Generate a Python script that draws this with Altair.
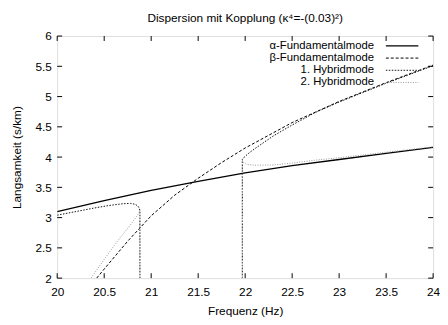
import altair as alt
import pandas as pd

# ---- data ----
alpha_f = [20, 20.5, 21, 21.5, 22, 22.5, 23, 23.5, 24]
alpha_v = [3.10, 3.28, 3.45, 3.60, 3.74, 3.86, 3.96, 4.06, 4.16]

beta_f = [20.42, 20.5, 20.75, 21, 21.25, 21.5, 21.75, 22, 22.5, 23, 23.5, 24]
beta_v = [2.0, 2.15, 2.61, 3.03, 3.37, 3.65, 3.91, 4.15, 4.57, 4.92, 5.23, 5.52]

# 1. Hybridmode: two pieces (upper nose branch + drop, rise + beta-like branch)
hyb1_f = [20, 20.2, 20.4, 20.55, 20.7, 20.78, 20.83, 20.86, 20.875, 20.88, 20.88,
          21.97, 21.97, 21.99, 22.05, 22.15, 22.3, 22.5, 22.75, 23, 23.5, 24]
hyb1_v = [3.04, 3.10, 3.16, 3.20, 3.23, 3.235, 3.22, 3.19, 3.15, 3.10, 2.0,
          2.0, 3.96, 4.0, 4.08, 4.19, 4.35, 4.53, 4.74, 4.91, 5.22, 5.51]
hyb1_seg = [0] * 11 + [1] * 11

# 2. Hybridmode: lower nose branch + drop, rise + alpha-like branch
hyb2_f = [20.36, 20.5, 20.65, 20.78, 20.84, 20.87, 20.88, 20.88,
          21.97, 21.97, 21.98, 22.02, 22.1, 22.3, 22.5, 22.75, 23, 23.5, 24]
hyb2_v = [2.0, 2.31, 2.63, 2.88, 3.01, 3.08, 3.12, 2.0,
          2.0, 3.95, 3.91, 3.88, 3.865, 3.87, 3.90, 3.95, 3.99, 4.08, 4.17]
hyb2_seg = [0] * 8 + [1] * 11

x_ticks = [20, 20.5, 21, 21.5, 22, 22.5, 23, 23.5, 24]
y_ticks = [2, 2.5, 3, 3.5, 4, 4.5, 5, 5.5, 6]

legend_labels = ["α-Fundamentalmode", "β-Fundamentalmode", "1. Hybridmode", "2. Hybridmode"]

title_text = "Dispersion mit Kopplung (κ⁴=-(0.03)²)"

# ---- layout ----
W, H = 382, 246
FONT = "Liberation Sans"

xscale = alt.Scale(domain=[20, 24], nice=False, zero=False)
yscale = alt.Scale(domain=[2, 6], nice=False, zero=False)
xaxis = alt.Axis(values=x_ticks, format=".1~f", title="Frequenz (Hz)", ticks=False,
                 domain=False, grid=False, labelPadding=9, titlePadding=8,
                 labelFontSize=12, titleFontSize=12, titleFontWeight="normal",
                 labelFont=FONT, titleFont=FONT, labelColor="black",
                 titleColor="black", labelFlush=False)
yaxis = alt.Axis(values=y_ticks, format=".1~f", title="Langsamkeit (s/km)", ticks=False,
                 domain=False, grid=False, labelPadding=6, titlePadding=12,
                 labelFontSize=12, titleFontSize=12, titleFontWeight="normal",
                 labelFont=FONT, titleFont=FONT, labelColor="black",
                 titleColor="black", labelFlush=False)


def series(f, v, seg=None):
    seg = seg if seg is not None else [0] * len(f)
    return pd.DataFrame({"f": f, "v": v, "seg": seg, "i": list(range(len(f)))})


def line_layer(df, color, dash, width):
    kw = dict(color=color, strokeWidth=width, clip=True)
    if dash:
        kw["strokeDash"] = dash
    return alt.Chart(df).mark_line(**kw).encode(
        x=alt.X("f:Q", scale=xscale, axis=xaxis),
        y=alt.Y("v:Q", scale=yscale, axis=yaxis),
        detail="seg:N",
        order="i:Q",
    )


styles = [
    ("black", None, 1.3),
    ("black", [3, 2], 1.0),
    ("#111111", [1.5, 1.5], 1.0),
    ("#999999", [1, 1.5], 1.0),
]

layers = [
    line_layer(series(alpha_f, alpha_v), *styles[0]),
    line_layer(series(beta_f, beta_v), *styles[1]),
    line_layer(series(hyb1_f, hyb1_v, hyb1_seg), *styles[2]),
    line_layer(series(hyb2_f, hyb2_v, hyb2_seg), *styles[3]),
]

# inward ticks (gnuplot style), mirrored on all four sides
TL = 5
xt = pd.DataFrame({"t": x_ticks})
yt = pd.DataFrame({"t": y_ticks})
layers.append(alt.Chart(xt).mark_rule(color="black", strokeWidth=1).encode(
    x=alt.X("t:Q", scale=xscale, axis=xaxis), y=alt.value(H), y2=alt.value(H - TL)))
layers.append(alt.Chart(xt).mark_rule(color="black", strokeWidth=1).encode(
    x=alt.X("t:Q", scale=xscale, axis=xaxis), y=alt.value(0), y2=alt.value(TL)))
layers.append(alt.Chart(yt).mark_rule(color="black", strokeWidth=1).encode(
    y=alt.Y("t:Q", scale=yscale, axis=yaxis), x=alt.value(0), x2=alt.value(TL)))
layers.append(alt.Chart(yt).mark_rule(color="black", strokeWidth=1).encode(
    y=alt.Y("t:Q", scale=yscale, axis=yaxis), x=alt.value(W), x2=alt.value(W - TL)))

# key (gnuplot style: right-aligned labels, sample line to the right)
one = pd.DataFrame({"k": [0]})
for n, (lab, st) in enumerate(zip(legend_labels, styles)):
    ypix = 10 + n * 12.4
    layers.append(alt.Chart(one).mark_text(
        align="right", baseline="middle", fontSize=11.5, font=FONT, color="black",
        text=lab).encode(x=alt.value(322), y=alt.value(ypix)))
    color, dash, width = st
    kw = dict(color=color, strokeWidth=width)
    if dash:
        kw["strokeDash"] = dash
    layers.append(alt.Chart(one).mark_rule(**kw).encode(
        x=alt.value(334), x2=alt.value(367), y=alt.value(ypix)))

chart = alt.layer(*layers).properties(
    width=W, height=H,
    title=alt.TitleParams(title_text, fontSize=12, font=FONT, fontWeight="normal",
                          color="black", anchor="middle", offset=5),
    autosize=alt.AutoSizeParams(type="none"),
    padding={"left": 50, "top": 26, "right": 7, "bottom": 37},
).configure_view(stroke="black", strokeWidth=1).configure(background="white")

chart.save("out.html", embed_options={"renderer": "svg", "actions": False})
